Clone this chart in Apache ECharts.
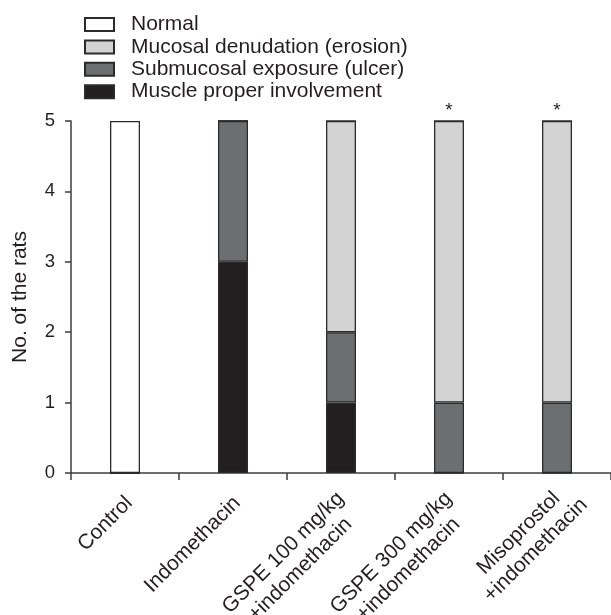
<!DOCTYPE html>
<html>
<head>
<meta charset="utf-8">
<script src="https://cdn.jsdelivr.net/npm/echarts@6/dist/echarts.min.js"></script>
<style>html,body{margin:0;padding:0;background:#fff}#c{width:611px;height:615px}</style>
</head>
<body>
<div id="c"></div>
<script>
const categories = ['Control', 'Indomethacin', 'GSPE 100 mg/kg\n+indomethacin', 'GSPE 300 mg/kg\n+indomethacin', 'Misoprostol\n+indomethacin'];
const muscle = [0, 3, 1, 0, 0];
const ulcer = [0, 2, 1, 1, 1];
const erosion = [0, 0, 3, 4, 4];
const normal = [5, 0, 0, 0, 0];
const significance = ['', '', '', '*', '*'];
const legendNames = ['Normal', 'Mucosal denudation (erosion)', 'Submucosal exposure (ulcer)', 'Muscle proper involvement'];
const yTicks = [0, 1, 2, 3, 4, 5];

const FONT = 'Liberation Sans, Arial, sans-serif';
const TXT = '#231f20';
const BORDER = '#2b2b2b';
const AXIS = '#3c3c3c';
const LABEL_SIZE = 21;

function withStars(vals) {
  return vals.map((v, i) => {
    if (significance[i]) {
      return { value: v, label: { show: true, position: 'top', formatter: significance[i], fontSize: 19, color: TXT, fontFamily: FONT, distance: 1 } };
    }
    return v;
  });
}

function mk(name, data, color) {
  return {
    name, type: 'bar', stack: 'total', data, barWidth: 30,
    itemStyle: { color, borderColor: BORDER, borderWidth: 1.3 },
    emphasis: { disabled: true }
  };
}

// text measuring so the second line is centred under the first line
const mctx = document.createElement('canvas').getContext('2d');
mctx.font = LABEL_SIZE + 'px ' + FONT;
const base = { fontSize: LABEL_SIZE, fontFamily: FONT, color: TXT };
const labelRich = {
  s: Object.assign({}, base, { lineHeight: 20, align: 'right', padding: [0, 4, 0, 0] })
};
categories.forEach((c, i) => {
  const lines = c.split('\n');
  if (lines.length > 1) {
    const w1 = mctx.measureText(lines[0]).width;
    labelRich['a' + i] = Object.assign({}, base, { lineHeight: 7, align: 'right', padding: [0, 4, 0, 0] });
    labelRich['b' + i] = Object.assign({}, base, { lineHeight: 41, align: 'center', width: w1 + 8 });
  }
});

function catLabel(v, idx) {
  const lines = v.split('\n');
  if (lines.length === 1) return '{s|' + lines[0] + '}';
  return '{a' + idx + '|' + lines[0] + '}\n{b' + idx + '|' + lines[1] + '}';
}

const chart = echarts.init(document.getElementById('c'), null, { renderer: 'canvas' });
chart.setOption({
  animation: false,
  backgroundColor: '#fff',
  textStyle: { fontFamily: FONT, color: TXT },
  legend: {
    orient: 'vertical', left: 84, top: 14, padding: 0,
    icon: 'rect',
    itemWidth: 29, itemHeight: 13, itemGap: 1.4,
    data: legendNames,
    textStyle: { fontSize: 21, lineHeight: 21, color: TXT, fontFamily: FONT, padding: [0, 0, 0, 12] },
    selectedMode: false
  },
  grid: { left: 71, right: 0, top: 121, bottom: 142, containLabel: false, outerBoundsMode: 'none' },
  xAxis: {
    type: 'category', data: categories,
    axisLine: { lineStyle: { color: AXIS, width: 1.5 } },
    axisTick: { show: true, length: 7, lineStyle: { color: AXIS, width: 1.5 } },
    axisLabel: {
      rotate: 45, interval: 0, margin: 17, verticalAlign: 'top',
      formatter: catLabel, rich: labelRich,
      fontSize: LABEL_SIZE, color: TXT, fontFamily: FONT
    }
  },
  yAxis: {
    type: 'value', min: 0, max: 5, interval: 1,
    name: 'No. of the rats', nameLocation: 'middle', nameGap: 40, nameRotate: 90,
    nameTextStyle: { fontSize: 21, color: TXT, fontFamily: FONT },
    splitLine: { show: false },
    axisLine: { show: true, lineStyle: { color: AXIS, width: 1.5 } },
    axisTick: { show: true, length: 6, lineStyle: { color: AXIS, width: 1.5 } },
    axisLabel: { fontSize: 18.5, color: TXT, fontFamily: FONT, margin: 16,
      formatter: v => yTicks.includes(v) ? String(v) : '' }
  },
  series: [
    mk('Muscle proper involvement', muscle, '#231f20'),
    mk('Submucosal exposure (ulcer)', ulcer, '#6d6e70'),
    mk('Mucosal denudation (erosion)', withStars(erosion), '#d3d3d3'),
    mk('Normal', normal, '#ffffff')
  ]
});
</script>
</body>
</html>
